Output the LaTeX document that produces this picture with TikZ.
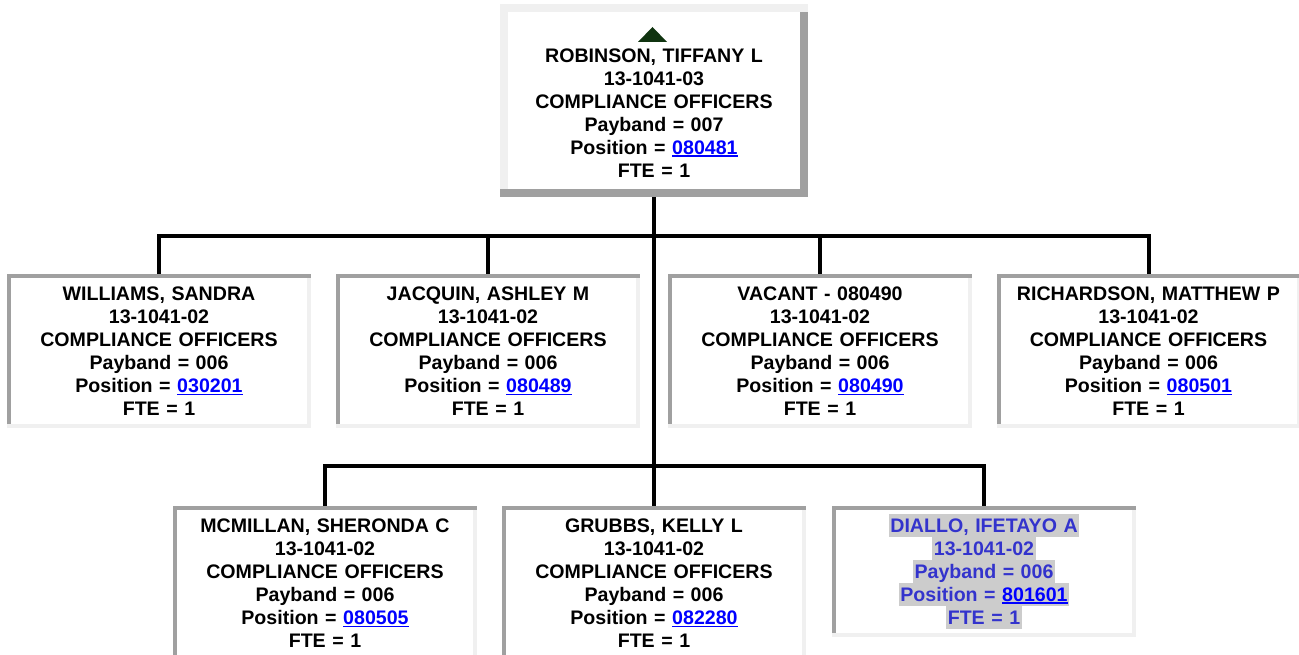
\documentclass[tikz,border=0pt]{standalone}
\usepackage{fontspec}
\setmainfont{Liberation Sans}
\usetikzlibrary{calc}

\definecolor{edgedark}{RGB}{160,160,160}
\definecolor{edgelight}{RGB}{240,240,240}
\definecolor{linkblue}{RGB}{0,0,255}
\definecolor{selblue}{RGB}{51,51,204}
\definecolor{selgray}{RGB}{204,204,204}
\definecolor{upgreen}{RGB}{16,52,16}

% underlined position number
\newcommand\poslink[1]{{\color{linkblue}\setbox0\hbox{#1}\rlap{\rule[-3pt]{\wd0}{1.8pt}}\box0}}
% one highlighted line of the selected card
\newcommand\selline[1]{{\fboxsep=0pt\colorbox{selgray}{\kern1.5pt\rule[-5pt]{0pt}{23pt}#1\kern1.5pt}}}

\begin{document}
\begin{tikzpicture}[x=1pt,y=-1pt,
  wire/.style={line width=4pt},
  card/.style={anchor=north,fill=white,text width=300pt,inner xsep=2pt,align=center,
    font=\fontsize{19.6}{23}\selectfont\bfseries},
  staff/.style={card,minimum width=304pt,inner ysep=12.5pt,
    path picture={
      \fill[edgelight] ([xshift=-4pt]path picture bounding box.north east) rectangle (path picture bounding box.south east);
      \fill[edgedark] (path picture bounding box.north west) rectangle ([xshift=4pt]path picture bounding box.south west);
      \fill[edgedark] (path picture bounding box.north west) rectangle ([yshift=-4pt]path picture bounding box.north east);
      \fill[edgelight] ([yshift=4pt]path picture bounding box.south west) rectangle (path picture bounding box.south east);
    }},
  head/.style={card,minimum width=308pt,inner ysep=20pt,
    path picture={
      \fill[edgelight] (path picture bounding box.north west) rectangle ([xshift=8pt]path picture bounding box.south west);
      \fill[edgedark] ([xshift=-8pt]path picture bounding box.north east) rectangle (path picture bounding box.south east);
      \fill[edgelight] (path picture bounding box.north west) rectangle ([yshift=-8pt]path picture bounding box.north east);
      \fill[edgedark] ([yshift=8pt]path picture bounding box.south west) rectangle (path picture bounding box.south east);
    }}]
\fill[white] (0,0) rectangle (1299,655);
\useasboundingbox (0,0) rectangle (1299,655);

\coordinate (bus1) at (654,236);
\coordinate (bus2) at (654,466);

\node[head] (ceo) at (654,4) {\rule{0pt}{38pt}ROBINSON, TIFFANY L\\13-1041-03\\COMPLIANCE OFFICERS\\Payband = 007\\Position = \poslink{080481}\\FTE = 1};
\fill[upgreen] ($(ceo.north)+(-16,38)$) -- ($(ceo.north)+(13,38)$) -- ($(ceo.north)+(-1.5,23)$) -- cycle;

% first row
\foreach \id/\cx/\who/\pos in {williams/159/{WILLIAMS, SANDRA}/030201,
    jacquin/488/{JACQUIN, ASHLEY M}/080489,
    vacant/820/{VACANT - 080490}/080490,
    richardson/1148.5/{RICHARDSON, MATTHEW P}/080501}{
  \node[staff] (\id) at (\cx,274) {\who\\13-1041-02\\COMPLIANCE OFFICERS\\Payband = 006\\Position = \poslink{\pos}\\FTE = 1};
}
% second row
\foreach \id/\cx/\who/\pos in {mcmillan/325/{MCMILLAN, SHERONDA C}/080505,
    grubbs/654/{GRUBBS, KELLY L}/082280}{
  \node[staff] (\id) at (\cx,506) {\who\\13-1041-02\\COMPLIANCE OFFICERS\\Payband = 006\\Position = \poslink{\pos}\\FTE = 1};
}
\node[staff,inner ysep=8pt,text=selblue] (diallo) at (984,506) {\selline{DIALLO, IFETAYO A}\\\selline{13-1041-02}\\\selline{Payband = 006}\\\selline{Position = \poslink{801601}}\\\selline{FTE = 1}};

\draw[wire] (ceo) -- (bus2);
\foreach \n in {williams,jacquin,vacant,richardson}
  \draw[wire] (bus1) -| (\n);
\foreach \n in {mcmillan,grubbs,diallo}
  \draw[wire] (bus2) -| (\n);
\end{tikzpicture}
\end{document}
